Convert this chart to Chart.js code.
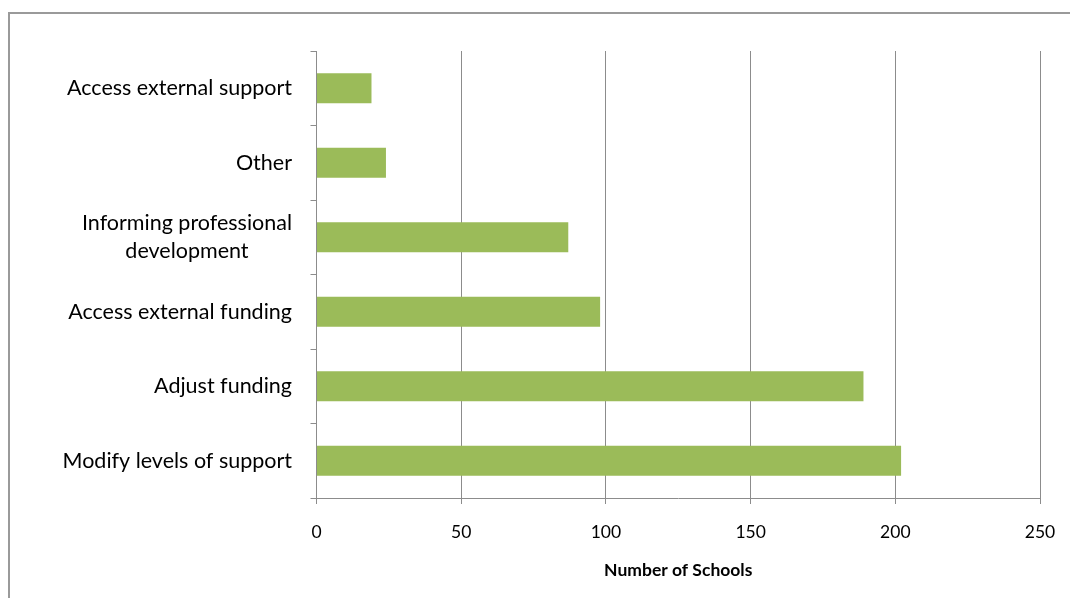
<!DOCTYPE html>
<html>
<head>
<meta charset="utf-8">
<script src="https://cdn.jsdelivr.net/npm/chart.js@4.4.1/dist/chart.umd.min.js"></script>
<style>
  html, body { margin: 0; padding: 0; background: #ffffff; }
  #wrap { position: relative; width: 1070px; height: 598px; overflow: hidden; }
  #frame { position: absolute; left: 8px; top: 12px; width: 1200px; height: 800px;
           border-left: 2px solid #9a9a9a; border-top: 2px solid #9a9a9a; pointer-events: none; }
  canvas { position: absolute; left: 0; top: 0; }
</style>
</head>
<body>
<div id="wrap">
  <canvas id="c" width="1070" height="598"></canvas>
  <div id="frame"></div>
</div>
<script>
const categories = [
  "Access external support",
  "Other",
  ["Informing professional", "development"],
  "Access external funding",
  "Adjust funding",
  "Modify levels of support"
];
const schoolCounts = [19, 24, 87, 98, 189, 202];
const xTickValues = [0, 50, 100, 150, 200, 250];
const xTitle = "Number of Schools";

const FONT = "Lato";
const LABEL_SIZE = 21.5;

const yLabelPlugin = {
  id: 'yLabels',
  afterDraw(chart) {
    const ys = chart.scales.y;
    const ctx = chart.ctx;
    ctx.save();
    ctx.font = LABEL_SIZE + 'px ' + FONT;
    ctx.fillStyle = '#000000';
    ctx.textBaseline = 'middle';
    const rightX = 292;
    const lh = 28.5;
    categories.forEach((lab, i) => {
      const cy = ys.getPixelForTick(i);
      if (Array.isArray(lab)) {
        const widest = Math.max(...lab.map(l => ctx.measureText(l).width));
        ctx.textAlign = 'center';
        const cx = rightX - widest / 2;
        const y0 = cy - (lab.length - 1) * lh / 2;
        lab.forEach((l, k) => ctx.fillText(l, cx, y0 + k * lh));
      } else {
        ctx.textAlign = 'right';
        ctx.fillText(lab, rightX, cy);
      }
    });
    ctx.restore();
  }
};

new Chart(document.getElementById('c'), {
  type: 'bar',
  data: {
    labels: categories,
    datasets: [{
      data: schoolCounts,
      backgroundColor: '#9BBB59',
      borderWidth: 0,
      categoryPercentage: 0.4,
      barPercentage: 1.0
    }]
  },
  options: {
    indexAxis: 'y',
    responsive: false,
    animation: false,
    layout: { padding: { top: 51, right: 30, left: 0, bottom: 0 } },
    plugins: { legend: { display: false }, tooltip: { enabled: false } },
    scales: {
      x: {
        min: 0, max: 250,
        afterBuildTicks(scale) { scale.ticks = xTickValues.map(v => ({ value: v })); },
        afterFit(scale) { scale.height = 100; scale.paddingLeft = 0; scale.paddingRight = 0; },
        grid: { color: '#8c8c8c', lineWidth: 1, drawTicks: true, tickLength: 6, tickColor: '#8c8c8c' },
        border: { display: true, color: '#8c8c8c', width: 1 },
        ticks: { color: '#000000', font: { family: FONT, size: 17.5 }, padding: 18, maxRotation: 0 },
        title: { display: true, text: xTitle, color: '#000000',
                 font: { family: FONT, size: 17.5, weight: 'bold' }, padding: { top: 0, bottom: 17 } }
      },
      y: {
        afterFit(scale) { scale.width = 316.5; },
        grid: { drawOnChartArea: false, drawTicks: true, tickLength: 6, color: '#8c8c8c', offset: true },
        border: { display: true, color: '#8c8c8c', width: 1 },
        ticks: { display: false }
      }
    }
  },
  plugins: [yLabelPlugin]
});
</script>
</body>
</html>
